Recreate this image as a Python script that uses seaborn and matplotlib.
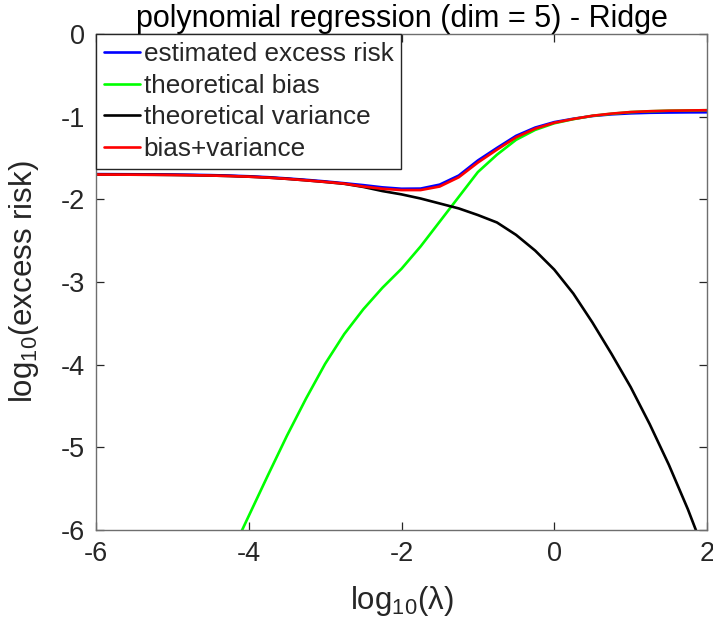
import numpy as np
import pandas as pd
import matplotlib
matplotlib.use("Agg")
import matplotlib.pyplot as plt
import seaborn as sns

sns.set_theme(style="white")
plt.rcParams['font.family'] = ['Liberation Sans', 'DejaVu Sans']
plt.rcParams['mathtext.fontset'] = 'custom'
plt.rcParams['mathtext.rm'] = 'Liberation Sans'
plt.rcParams['mathtext.it'] = 'Liberation Sans:italic'
plt.rcParams['mathtext.default'] = 'regular'

# ---- data (log10 lambda grid and log10 excess risk values) ----
log_lambda = [-6.0, -5.75, -5.5, -5.25, -5.0, -4.75, -4.5, -4.25, -4.0, -3.75, -3.5,
              -3.25, -3.0, -2.75, -2.5, -2.25, -2.0, -1.75, -1.5, -1.25, -1.0,
              -0.75, -0.5, -0.25, 0.0, 0.25, 0.5, 0.75, 1.0, 1.25, 1.5, 1.75, 2.0]

estimated_risk = [-1.695, -1.696, -1.697, -1.698, -1.700, -1.703, -1.707, -1.713, -1.721,
                  -1.732, -1.747, -1.764, -1.783, -1.805, -1.828, -1.855, -1.872, -1.870,
                  -1.822, -1.712, -1.530, -1.378, -1.232, -1.132, -1.066, -1.025, -0.992,
                  -0.972, -0.960, -0.953, -0.950, -0.948, -0.947]

theoretical_bias = [-10.2, -9.7, -9.2, -8.7, -8.2, -7.7, -7.2, -6.32, -5.83, -5.34, -4.86,
                    -4.41, -3.99, -3.63, -3.33, -3.07, -2.84, -2.57, -2.27, -1.97, -1.67,
                    -1.46, -1.28, -1.16, -1.08, -1.03, -0.99, -0.965, -0.945, -0.935, -0.928,
                    -0.925, -0.922]

theoretical_variance = [-1.700, -1.701, -1.702, -1.703, -1.705, -1.708, -1.712, -1.718, -1.726,
                        -1.737, -1.752, -1.770, -1.790, -1.812, -1.850, -1.900, -1.940, -1.990,
                        -2.050, -2.110, -2.190, -2.280, -2.430, -2.620, -2.850, -3.140, -3.490,
                        -3.870, -4.270, -4.720, -5.210, -5.750, -6.350]

bias_plus_variance = [-1.700, -1.701, -1.702, -1.703, -1.705, -1.708, -1.712, -1.718, -1.726,
                      -1.737, -1.752, -1.770, -1.789, -1.810, -1.845, -1.872, -1.888, -1.888,
                      -1.845, -1.733, -1.555, -1.399, -1.250, -1.145, -1.074, -1.028, -0.989,
                      -0.963, -0.944, -0.934, -0.928, -0.925, -0.922]

series_names = ["estimated excess risk", "theoretical bias", "theoretical variance", "bias+variance"]
series_colors = ["#0000ff", "#00ff00", "#000000", "#ff0000"]

fig = plt.figure(figsize=(7.13, 6.26), dpi=100)
ax = fig.add_axes([96/713, 1 - 530/626, (707-96)/713, (530-34)/626])

for name, vals, col in zip(series_names,
                           [estimated_risk, theoretical_bias, theoretical_variance, bias_plus_variance],
                           series_colors):
    sns.lineplot(x=log_lambda, y=vals, color=col, label=name, ax=ax, linewidth=1.9)

ax.set_xlim(-6, 2)
ax.set_ylim(-6, 0)
ax.set_xticks([-6, -4, -2, 0, 2])
ax.set_yticks([-6, -5, -4, -3, -2, -1, 0])
ax.set_xticklabels(['-6', '-4', '-2', '0', '2'])
ax.set_yticklabels(['-6', '-5', '-4', '-3', '-2', '-1', '0'])

tc = '#262626'
for s in ax.spines.values():
    s.set_visible(True)
    s.set_color('#6e6e6e')
    s.set_linewidth(1.0)
ax.tick_params(direction='in', length=6, width=0.9, color=tc, labelcolor=tc,
               labelsize=19.5, top=True, right=True, bottom=True, left=True, pad=8)

ax.set_title("polynomial regression (dim = 5) - Ridge", fontsize=22, color='black', pad=5)
ax.set_xlabel("log$_{10}$($\\lambda$)", fontsize=22.5, color=tc, labelpad=12)
ax.set_ylabel("log$_{10}$(excess risk)", fontsize=22.5, color=tc, labelpad=14)

leg = ax.legend(loc='upper left', borderaxespad=0, fontsize=18.8, frameon=True,
                fancybox=False, handlelength=1.4, handletextpad=0.12,
                labelspacing=0.30, borderpad=0.3)
leg.get_frame().set_edgecolor(tc)
leg.get_frame().set_linewidth(1.0)
leg.get_frame().set_alpha(1.0)
for line in leg.get_lines():
    line.set_linewidth(1.9)

fig.savefig("out.png", dpi=100)
